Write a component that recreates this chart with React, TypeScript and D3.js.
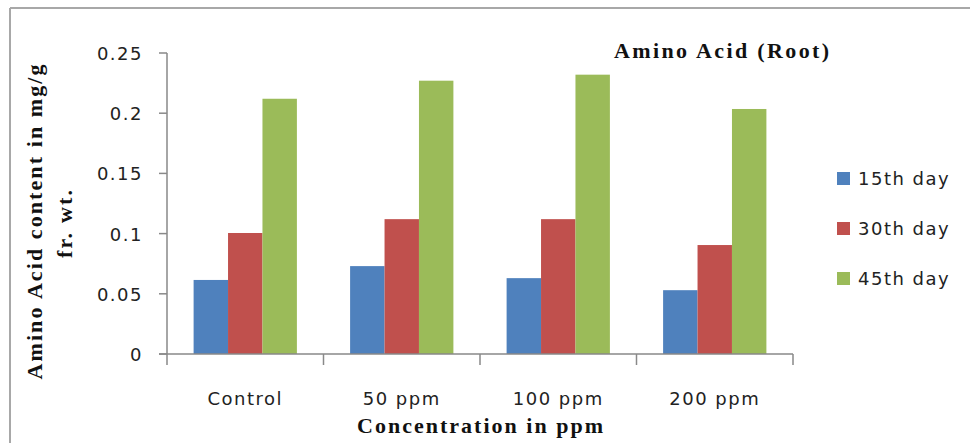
import React from 'react';
import {scaleBand, scaleLinear} from 'd3';

const categories = ['Control', '50 ppm', '100 ppm', '200 ppm'];
const seriesNames = ['15th day', '30th day', '45th day'];
const day15 = [0.0615, 0.073, 0.063, 0.053];
const day30 = [0.1005, 0.112, 0.112, 0.0905];
const day45 = [0.212, 0.227, 0.232, 0.2035];
const yTicks = [0, 0.05, 0.1, 0.15, 0.2, 0.25];
const yTickLabels = ['0', '0.05', '0.1', '0.15', '0.2', '0.25'];
const colors = ['#4F81BD', '#C0504D', '#9BBB59'];

const W = 970;
const H = 443;
const left = 167, right = 793, top = 53, bottom = 354;
const sans = 'DejaVu Sans';
const serif = 'Liberation Serif';
const axisColor = '#898989';

export default function App() {
  const series = [day15, day30, day45];
  const x = scaleBand().domain(categories).range([left, right]).paddingInner(0.34).paddingOuter(0.17);
  const x1 = scaleBand().domain(seriesNames).range([0, x.bandwidth()]);
  const y = scaleLinear().domain([0, 0.25]).range([bottom, top]);
  const step = x.step();
  const bounds = categories.map((c, i) => left + i * step).concat([right]);

  return (
    <svg width={W} height={H} style={{position: 'absolute', left: 0, top: 0, background: '#fff'}}>
      <rect x={0} y={0} width={W} height={H} fill="#fff" />
      {/* outer frame */}
      <line x1={10} y1={8} x2={W} y2={8} stroke="#a8a8a8" strokeWidth={2} />
      <line x1={10} y1={8} x2={10} y2={H} stroke="#a8a8a8" strokeWidth={2} />

      {/* bars */}
      {series.map((vals, s) => (
        <g key={s}>
          {categories.map((c, i) => (
            <rect key={c}
              x={x(c) + x1(seriesNames[s])}
              y={y(vals[i])}
              width={x1.bandwidth()}
              height={bottom - y(vals[i])}
              fill={colors[s]} />
          ))}
        </g>
      ))}

      {/* y axis */}
      <line x1={left} y1={top} x2={left} y2={bottom} stroke={axisColor} strokeWidth={1.5} />
      {yTicks.map((t, i) => (
        <g key={t}>
          <line x1={left - 8} x2={left} y1={y(t)} y2={y(t)} stroke={axisColor} strokeWidth={1.5} />
          <text x={143} y={y(t) + 7} textAnchor="end" fontFamily={sans} fontSize={18}
            letterSpacing={1.5} fill="#222">{yTickLabels[i]}</text>
        </g>
      ))}

      {/* x axis */}
      <line x1={left - 8} y1={bottom} x2={right} y2={bottom} stroke={axisColor} strokeWidth={1.5} />
      {bounds.map((b, i) => (
        <line key={i} x1={b} x2={b} y1={bottom} y2={bottom + 11} stroke={axisColor} strokeWidth={1.5} />
      ))}
      {categories.map(c => (
        <text key={c} x={x(c) + x.bandwidth() / 2} y={405} textAnchor="middle" fontFamily={sans}
          fontSize={18} letterSpacing={1.5} fill="#222">{c}</text>
      ))}

      {/* titles */}
      <text x={614} y={58} fontFamily={serif} fontWeight="bold" fontSize={22}
        textLength={215} lengthAdjust="spacing" fill="#111">Amino Acid (Root)</text>
      <text x={480} y={433} textAnchor="middle" fontFamily={serif} fontWeight="bold" fontSize={22}
        textLength={246} lengthAdjust="spacing" fill="#111">Concentration in ppm</text>
      <g transform="rotate(-90)">
        <text x={-222} y={42} textAnchor="middle" fontFamily={serif} fontWeight="bold" fontSize={22}
          textLength={315} lengthAdjust="spacing" fill="#111">Amino Acid content in mg/g</text>
        <text x={-224} y={72} textAnchor="middle" fontFamily={serif} fontWeight="bold" fontSize={22}
          textLength={68} lengthAdjust="spacing" fill="#111">fr. wt.</text>
      </g>

      {/* legend */}
      {seriesNames.map((n, i) => (
        <g key={n} transform={`translate(837, ${172 + i * 50})`}>
          <rect x={0} y={0} width={13} height={13} fill={colors[i]} />
          <text x={21} y={13} fontFamily={sans} fontSize={18} letterSpacing={1.5} fill="#222">{n}</text>
        </g>
      ))}
    </svg>
  );
}
